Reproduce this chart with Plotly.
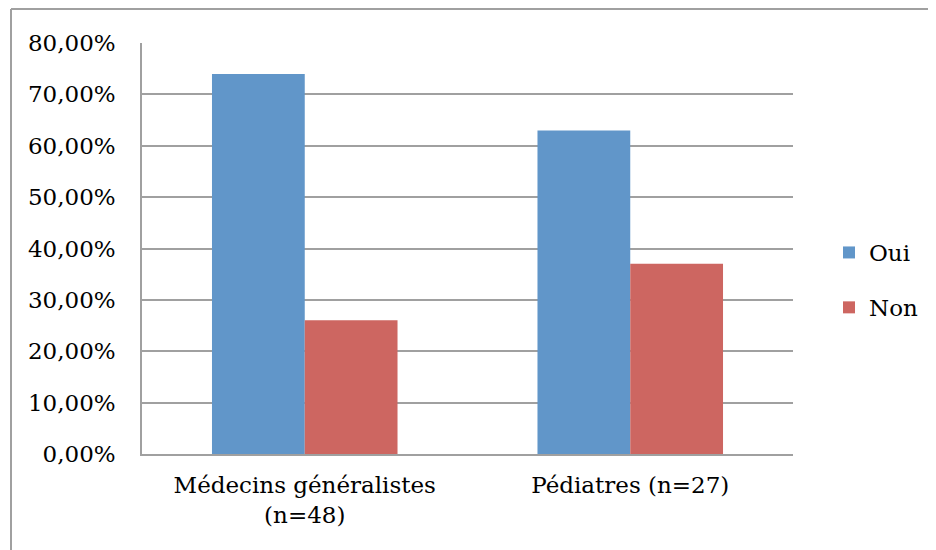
import plotly.graph_objects as go

categories = ["Médecins généralistes<br>(n=48)", "Pédiatres (n=27)"]
series_names = ["Oui", "Non"]
oui_values = [0.7396, 0.6296]
non_values = [0.2604, 0.3704]
colors = ["#6196C9", "#CD6661"]

FONT = "DejaVu Serif"
OFF = 8  # page body margin
W, H = 936 - OFF, 550 - OFF
# plot area in screenshot coords: x 142..793, y 43..454
ml, mt = 142 - OFF, 43 - OFF
mr = W - (793 - OFF)
mb = H - (454 - OFF)
pw, ph = W - ml - mr, H - mt - mb

fig = go.Figure()
for name, vals, col in zip(series_names, [oui_values, non_values], colors):
    fig.add_trace(go.Bar(x=categories, y=vals, name=name, marker_color=col,
                         marker_line_width=0, legendgroup=name))

def px_x(p):
    return (p - OFF - ml) / pw

def px_y(p):
    return (H - mb - (p - OFF)) / ph

fig.update_layout(
    width=W, height=H,
    margin=dict(l=ml, r=mr, t=mt, b=mb, autoexpand=False),
    paper_bgcolor="white", plot_bgcolor="white",
    separators=", ",
    font=dict(family=FONT, size=23, color="black"),
    barmode="group", bargap=0.43, bargroupgap=0,
    legend=dict(x=px_x(829), y=px_y(280), xanchor="left", yanchor="middle",
                font=dict(family=FONT, size=23), tracegroupgap=22,
                traceorder="grouped", bgcolor="rgba(0,0,0,0)"),
    xaxis=dict(showline=True, linecolor="#A0A0A0", linewidth=1.5,
               ticks="", tickfont=dict(size=23), showgrid=False,
               ticklabelstandoff=10, automargin=False),
    yaxis=dict(range=[0, 0.8], dtick=0.1, tickformat=".2%",
               showgrid=True, gridcolor="#A0A0A0", gridwidth=1.5,
               showline=True, linecolor="#A0A0A0", linewidth=1.5,
               ticks="", tickfont=dict(size=23), zeroline=False,
               ticklabelstandoff=20, automargin=False),
    shapes=[
        dict(type="line", xref="paper", yref="paper",
             x0=px_x(11), y0=px_y(9), x1=px_x(950), y1=px_y(9),
             line=dict(color="#A0A0A0", width=2)),
        dict(type="line", xref="paper", yref="paper",
             x0=px_x(11), y0=px_y(9), x1=px_x(11), y1=px_y(560),
             line=dict(color="#A0A0A0", width=2)),
    ],
)

fig.write_html("out.html")
